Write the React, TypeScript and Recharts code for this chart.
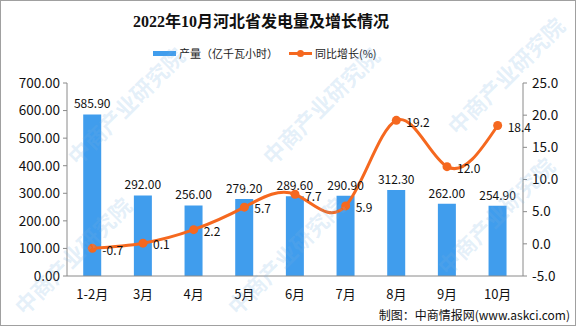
import { Bar, ComposedChart, LabelList, Line, XAxis, YAxis } from "recharts";

const months = ["1-2月", "3月", "4月", "5月", "6月", "7月", "8月", "9月", "10月"];
const output = [585.9, 292.0, 256.0, 279.2, 289.6, 290.9, 312.3, 262.0, 254.9];
const growth = [-0.7, 0.1, 2.2, 5.7, 7.7, 5.9, 19.2, 12.0, 18.4];
const leftTicks = [0, 100, 200, 300, 400, 500, 600, 700];
const rightTicks = [-5, 0, 5, 10, 15, 20, 25];
const bandEdges = months.map((_, i) => i).concat(months.length);

const data = months.map((month, i) => ({ month, output: output[i], growth: growth[i], edge: i }));

const BLUE = "#409ded";
const ORANGE = "#f5681f";
const AXIS = "#8a8a8a";
const FONT = "'Noto Sans CJK SC', 'Noto Sans', sans-serif";

// watermark centres, kept inside the frame
const watermarks = [
  { cx: 125, cy: 105 },
  { cx: 320, cy: 105 },
  { cx: 505, cy: 75 },
  { cx: 72, cy: 255 },
  { cx: 285, cy: 255 },
  { cx: 495, cy: 215 },
];

export default function App() {
  return (
    <div style={{ position: "absolute", left: 0, top: 0, width: 576, height: 326, background: "#fff", fontFamily: FONT, overflow: "hidden" }}>
      <div
        style={{
          position: "absolute",
          left: 0,
          width: 522,
          top: 10,
          textAlign: "center",
          fontFamily: "'Liberation Serif', 'Noto Sans CJK SC', serif",
          fontWeight: 700,
          fontSize: 16,
          lineHeight: "24px",
          color: "#111",
        }}
      >
        2022年10月河北省发电量及增长情况
      </div>
      <div style={{ position: "absolute", left: 153, top: 45, display: "flex", alignItems: "center", fontSize: 11, color: "#222", lineHeight: "16px" }}>
        <span style={{ display: "inline-block", width: 23, height: 5, background: BLUE, marginRight: 3 }} />
        <span>产量（亿千瓦小时）</span>
        <span style={{ display: "inline-block", position: "relative", width: 23, height: 3, background: ORANGE, marginLeft: 11, marginRight: 3 }}>
          <span style={{ position: "absolute", left: 8, top: -2, width: 7, height: 7, borderRadius: 4, background: ORANGE }} />
        </span>
        <span>同比增长(%)</span>
      </div>
      <ComposedChart width={576} height={326} data={data} margin={{ top: 83, right: 0, bottom: 20, left: 0 }} barCategoryGap="32%">
        <XAxis
          xAxisId="edge"
          type="number"
          dataKey="edge"
          domain={[0, months.length]}
          ticks={bandEdges}
          height={1}
          tick={false}
          axisLine={false}
          tickLine={{ stroke: AXIS }}
          tickSize={5}
        />
        <XAxis
          xAxisId="cat"
          dataKey="month"
          height={29}
          axisLine={{ stroke: AXIS }}
          tickLine={false}
          tickMargin={8}
          tick={{ fill: "#111", fontSize: 13 }}
        />
        <YAxis
          yAxisId="left"
          width={67}
          domain={[0, 700]}
          ticks={leftTicks}
          tickFormatter={(v: number) => v.toFixed(2)}
          axisLine={{ stroke: AXIS }}
          tickLine={{ stroke: AXIS }}
          tickSize={4}
          tickMargin={3}
          tick={{ fill: "#111", fontSize: 13.5 }}
        />
        <YAxis
          yAxisId="right"
          orientation="right"
          width={53}
          domain={[-5, 25]}
          ticks={rightTicks}
          tickFormatter={(v: number) => v.toFixed(1)}
          axisLine={{ stroke: AXIS }}
          tickLine={{ stroke: AXIS }}
          tickSize={4}
          tickMargin={5}
          tick={{ fill: "#111", fontSize: 13.5 }}
        />
        <Bar xAxisId="cat" yAxisId="left" dataKey="output" fill={BLUE} isAnimationActive={false}>
          <LabelList dataKey="output" position="top" offset={6} fill="#111" fontSize={12} formatter={(v: any) => Number(v).toFixed(2)} />
        </Bar>
        <Line
          xAxisId="cat"
          yAxisId="right"
          type="natural"
          dataKey="growth"
          stroke={ORANGE}
          strokeWidth={3}
          dot={{ r: 4.5, fill: ORANGE, stroke: ORANGE, strokeWidth: 0 }}
          activeDot={false}
          isAnimationActive={false}
        >
          <LabelList dataKey="growth" position="right" offset={10} dy={2} fill="#111" fontSize={12} formatter={(v: any) => Number(v).toFixed(1)} />
        </Line>
      </ComposedChart>
      {watermarks.map((w, i) => (
        <div
          key={i}
          style={{
            position: "absolute",
            left: w.cx - 77,
            top: w.cy - 15,
            width: 154,
            height: 30,
            lineHeight: "30px",
            textAlign: "center",
            transform: "rotate(-45deg)",
            fontSize: 22,
            fontWeight: 700,
            color: "rgba(120,175,225,0.2)",
            whiteSpace: "nowrap",
            pointerEvents: "none",
          }}
        >
          中商产业研究院
        </div>
      ))}
      <div style={{ position: "absolute", right: 6, top: 306, fontSize: 12, color: "#111", lineHeight: "18px" }}>
        制图：中商情报网(www.askci.com)
      </div>
      <div style={{ position: "absolute", inset: 0, border: "1px solid #a0a0a0", pointerEvents: "none" }} />
    </div>
  );
}
